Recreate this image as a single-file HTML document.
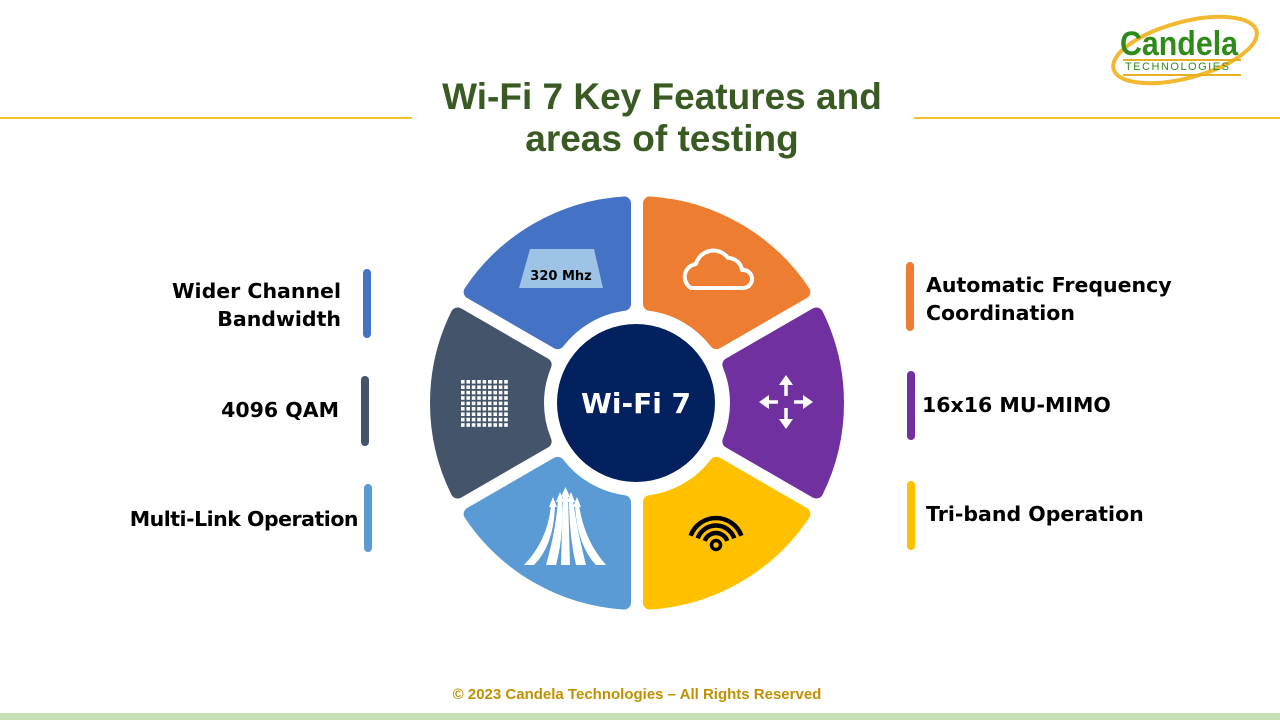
<!DOCTYPE html>
<html><head><meta charset="utf-8"><style>
body{margin:0;width:1280px;height:720px;overflow:hidden;background:#fff;position:relative;font-family:"DejaVu Sans","Liberation Sans",sans-serif}
.t{position:absolute;font-weight:bold;color:#000;font-size:20.5px;line-height:28px}
.bar{position:absolute;width:8px;border-radius:4px}
</style></head><body>
<div style="position:absolute;left:0;top:117px;width:412px;height:2px;background:#f2c12e"></div>
<div style="position:absolute;left:914px;top:117px;width:366px;height:2px;background:#f2c12e"></div>
<div style="position:absolute;left:362px;top:76px;width:600px;text-align:center;font-weight:bold;font-size:37px;line-height:42px;color:#3a5a23;font-family:'Liberation Sans',sans-serif">Wi-Fi 7 Key Features and<br>areas of testing</div>

<svg style="position:absolute;left:1105px;top:5px" width="170" height="90">
<ellipse cx="80" cy="45" rx="74" ry="28" fill="none" stroke="#f2b830" stroke-width="4" transform="rotate(-15 80 45)"/>
<text x="15" y="50" font-family="Liberation Sans" font-weight="bold" font-size="34" fill="#2e8b1a" textLength="118" lengthAdjust="spacingAndGlyphs">Candela</text>
<rect x="18" y="54" width="118" height="2" fill="#e8b020"/>
<text x="20" y="65" font-family="Liberation Sans" font-size="11" fill="#2e8b1a" letter-spacing="1.5">TECHNOLOGIES</text>
<rect x="18" y="69" width="118" height="2" fill="#e8b020"/>
</svg>

<div class="t" style="left:100px;top:277px;width:241px;text-align:right">Wider Channel<br>Bandwidth</div>
<div class="bar" style="left:363px;top:269px;height:69px;background:#4472c4"></div>
<div class="t" style="left:100px;top:396px;width:239px;text-align:right">4096 QAM</div>
<div class="bar" style="left:361px;top:376px;height:70px;background:#44546a"></div>
<div class="t" style="left:100px;top:505px;width:258px;text-align:right;letter-spacing:-0.5px">Multi-Link Operation</div>
<div class="bar" style="left:364px;top:484px;height:68px;background:#5b9bd5"></div>

<div class="bar" style="left:906px;top:262px;height:69px;background:#ed7d31"></div>
<div class="t" style="left:926px;top:271px">Automatic Frequency<br>Coordination</div>
<div class="bar" style="left:907px;top:371px;height:69px;background:#7030a0"></div>
<div class="t" style="left:922px;top:391px">16x16 MU-MIMO</div>
<div class="bar" style="left:907px;top:481px;height:69px;background:#ffc000"></div>
<div class="t" style="left:926px;top:500px">Tri-band Operation</div>

<svg id="d" style="position:absolute;left:0;top:0" width="1280" height="720"></svg>

<div style="position:absolute;left:0;top:686px;width:1274px;text-align:center;font-size:15px;font-weight:bold;color:#c09000;font-family:'Liberation Sans',sans-serif">© 2023 Candela Technologies – All Rights Reserved</div>
<div style="position:absolute;left:0;top:713px;width:1280px;height:7px;background:#c5e0b4"></div>

<script>
var cx=637,cy=403,Ro=200,Ri=100,d=13,s='';
var cols=['#ed7d31','#7030a0','#ffc000','#5b9bd5','#44546a','#4472c4'];
function P(r,a,o){a=a*Math.PI/180;return [cx+r*Math.cos(a)-o*Math.sin(a),cy+r*Math.sin(a)+o*Math.cos(a)];}
for(var i=0;i<6;i++){
 var a1=-90+60*i,a2=a1+60;
 var ro=Math.sqrt(Ro*Ro-d*d),ri=Math.sqrt(Ri*Ri-d*d);
 var A=P(ri,a1,d),B=P(ro,a1,d),C=P(ro,a2,-d),D=P(ri,a2,-d);
 s+='<path d="M'+A+' L'+B+' A'+Ro+' '+Ro+' 0 0 1 '+C+' L'+D+' A'+Ri+' '+Ri+' 0 0 0 '+A+'Z" fill="'+cols[i]+'" stroke="'+cols[i]+'" stroke-width="14" stroke-linejoin="round"/>';
}
s+='<circle cx="636" cy="403" r="79" fill="#03215e"/>';
s+='<text x="636" y="413" text-anchor="middle" font-family="DejaVu Sans" font-weight="bold" font-size="28" fill="#fff">Wi-Fi 7</text>';
s+='<polygon points="530,249 594,249 603,288 519,288" fill="#9dc3e6"/>';
s+='<text x="561" y="280" text-anchor="middle" font-family="DejaVu Sans" font-weight="bold" font-size="13" fill="#000">320 Mhz</text>';
s+='<path d="M691,288 a13,13 0 0 1 5,-24 a18,18 0 0 1 32,-6 a14,14 0 0 1 14,12 a9,9 0 0 1 2,18 z" fill="none" stroke="#fff" stroke-width="4" stroke-linejoin="round"/>';
for(var r=0;r<9;r++)for(var c=0;c<9;c++)s+='<rect x="'+(461+c*5.4)+'" y="'+(380+r*5.4)+'" width="3.6" height="3.6" fill="#fff"/>';
s+='<g stroke="#fff" stroke-width="3.5" fill="#fff"><line x1="786" y1="384" x2="786" y2="396"/><line x1="786" y1="408" x2="786" y2="422"/><line x1="766" y1="402" x2="778" y2="402"/><line x1="794" y1="402" x2="806" y2="402"/></g>';
s+='<g fill="#fff"><polygon points="786,375 779,385 793,385"/><polygon points="786,429 779,419 793,419"/><polygon points="759,402 769,395 769,409"/><polygon points="813,402 803,395 803,409"/></g>';
function arc(r){var a=200*Math.PI/180,b=340*Math.PI/180;var x1=716+r*Math.cos(a),y1=545-r*Math.sin(a)*-1;
 x1=716+r*Math.cos(Math.PI*200/180);y1=545+r*Math.sin(Math.PI*200/180);var x2=716+r*Math.cos(Math.PI*340/180),y2=545+r*Math.sin(Math.PI*340/180);
 return '<path d="M'+x1+','+y1+' A'+r+','+r+' 0 0 1 '+x2+','+y2+'"/>';}
s+='<g fill="none" stroke="#000" stroke-width="4.5"><circle cx="716" cy="545" r="4.5" stroke-width="3.5"/>'+arc(12)+arc(19.5)+arc(27)+'</g>';
s+='<g fill="#fff"><path d="M524,565 Q548,540 551,505 L555,505 Q554,545 534,565Z"/><path d="M546,565 Q556,530 558,500 L562,500 Q564,535 556,565Z"/><path d="M561,565 L563,495 L568,495 L570,565Z"/><path d="M576,565 Q569,535 569,500 L573,500 Q577,530 586,565Z"/><path d="M596,565 Q577,545 575,505 L579,505 Q584,540 606,565Z"/>';
s+='<polygon points="553,497 549,507 557,507"/><polygon points="560,492 556,502 564,502"/><polygon points="565.5,487 561,497 570,497"/><polygon points="571,492 567,502 575,502"/><polygon points="577,497 573,507 581,507"/></g>';
document.getElementById('d').innerHTML=s;
</script>
</body></html>
